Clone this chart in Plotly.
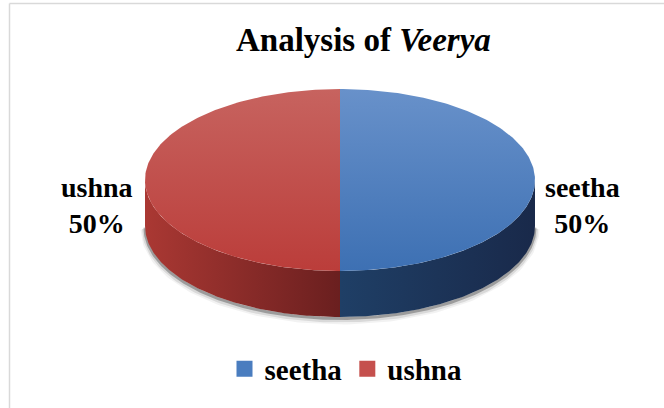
import numpy as np
import plotly.graph_objects as go

# ---- data ----
labels = ["seetha", "ushna"]
values = [50, 50]
title_text = "<b>Analysis of <i>Veerya</i></b>"

# ---- style ----
top_grad = {"seetha": ("#6891CA", "#3D70B3"), "ushna": ("#C7635F", "#BB3D3A")}
side_grad = {"seetha": ("#1F3F66", "#19294A"), "ushna": ("#AA3833", "#6A1F1F")}
legend_col = {"seetha": "#4A7DBF", "ushna": "#C5504D"}
FONT = "Liberation Serif, Times New Roman, serif"

W, H = 664, 408
cx, cy, rx, ry, depth = 340, 180, 195, 91, 46


def ell(a_deg, dy=0.0):
    a = np.radians(a_deg)
    return cx + rx * np.cos(a), cy - ry * np.sin(a) + dy


fig = go.Figure()

# shadow under the pie
arc = np.linspace(-180, 0, 200)
sx, sy = ell(arc, depth)
for off, wd, col in [(3, 9, "rgba(0,0,0,0.05)"), (2.5, 6, "rgba(0,0,0,0.10)"), (1.5, 3, "rgba(0,0,0,0.28)")]:
    fig.add_trace(go.Scatter(x=sx, y=sy + off, mode="lines", line=dict(color=col, width=wd),
                             hoverinfo="skip", showlegend=False))

total = sum(values)
cum = 0.0
slices = []
for lab, v in zip(labels, values):
    a0 = 90 - cum / total * 360
    cum += v
    a1 = 90 - cum / total * 360
    slices.append((lab, v, a0, a1))

# side walls
for lab, v, a0, a1 in slices:
    lo, hi = max(a1, -180), min(a0, 0)
    if hi <= lo:
        continue
    t = np.linspace(hi, lo, 120)
    x1, y1 = ell(t)
    x2, y2 = ell(t[::-1], depth)
    xs = np.concatenate([x1, x2])
    ys = np.concatenate([y1, y2])
    c0, c1 = side_grad[lab]
    if lab == "ushna":
        start, stop = cx - rx, cx
    else:
        start, stop = cx, cx + rx
    fig.add_trace(go.Scatter(x=xs, y=ys, mode="lines", fill="toself", line=dict(width=0),
                             fillgradient=dict(type="horizontal", colorscale=[[0, c0], [1, c1]],
                                               start=start, stop=stop),
                             hoverinfo="skip", showlegend=False))

# top faces
for lab, v, a0, a1 in slices:
    t = np.linspace(a0, a1, 200)
    x1, y1 = ell(t)
    xs = np.concatenate([[cx], x1, [cx]])
    ys = np.concatenate([[cy], y1, [cy]])
    c0, c1 = top_grad[lab]
    fig.add_trace(go.Scatter(x=xs, y=ys, mode="lines", fill="toself", line=dict(width=0),
                             fillgradient=dict(type="vertical", colorscale=[[0, c0], [1, c1]],
                                               start=cy - ry, stop=cy + ry),
                             hoverinfo="skip", showlegend=False))

# legend entries
for lab in labels:
    fig.add_trace(go.Scatter(x=[None], y=[None], mode="markers", name=lab,
                             marker=dict(symbol="square", size=16, color=legend_col[lab])))

# data labels
for lab, v, a0, a1 in slices:
    mid = (a0 + a1) / 2
    mx, _ = ell(mid)
    right = np.cos(np.radians(mid)) >= 0
    fig.add_annotation(x=mx + (8 if right else -10), y=cy + depth / 2 + 2,
                       xref="x", yref="y",
                       text=f"<b>{lab}<br>{round(v / total * 100)}%</b>",
                       showarrow=False, xanchor="left" if right else "right", yanchor="middle",
                       align="center", font=dict(family=FONT, size=28, color="#000000"))

# title
fig.add_annotation(x=363, y=40, xref="x", yref="y", text=title_text, showarrow=False,
                   xanchor="center", yanchor="middle",
                   font=dict(family=FONT, size=33, color="#000000"))

# chart border (top & left visible)
fig.add_shape(type="line", x0=9.5, x1=W + 5, y0=3.5, y1=3.5, xref="x", yref="y",
              line=dict(color="#D9D9D9", width=1.5))
fig.add_shape(type="line", x0=9.5, x1=9.5, y0=3.5, y1=H + 5, xref="x", yref="y",
              line=dict(color="#D9D9D9", width=1.5))

fig.update_xaxes(range=[0, W], visible=False, fixedrange=True)
fig.update_yaxes(range=[H, 0], visible=False, fixedrange=True)
fig.update_layout(
    width=W, height=H, margin=dict(l=0, r=0, t=0, b=0),
    paper_bgcolor="white", plot_bgcolor="white",
    showlegend=True,
    legend=dict(orientation="h", x=346 / W, xanchor="center", y=1 - 369 / H, yanchor="middle",
                font=dict(family=FONT, size=29, color="#000000", weight="bold"),
                itemwidth=30, bgcolor="rgba(0,0,0,0)", tracegroupgap=0),
)

fig.write_html("out.html", config={"displayModeBar": False},
               post_script="document.body.style.margin='0';")
